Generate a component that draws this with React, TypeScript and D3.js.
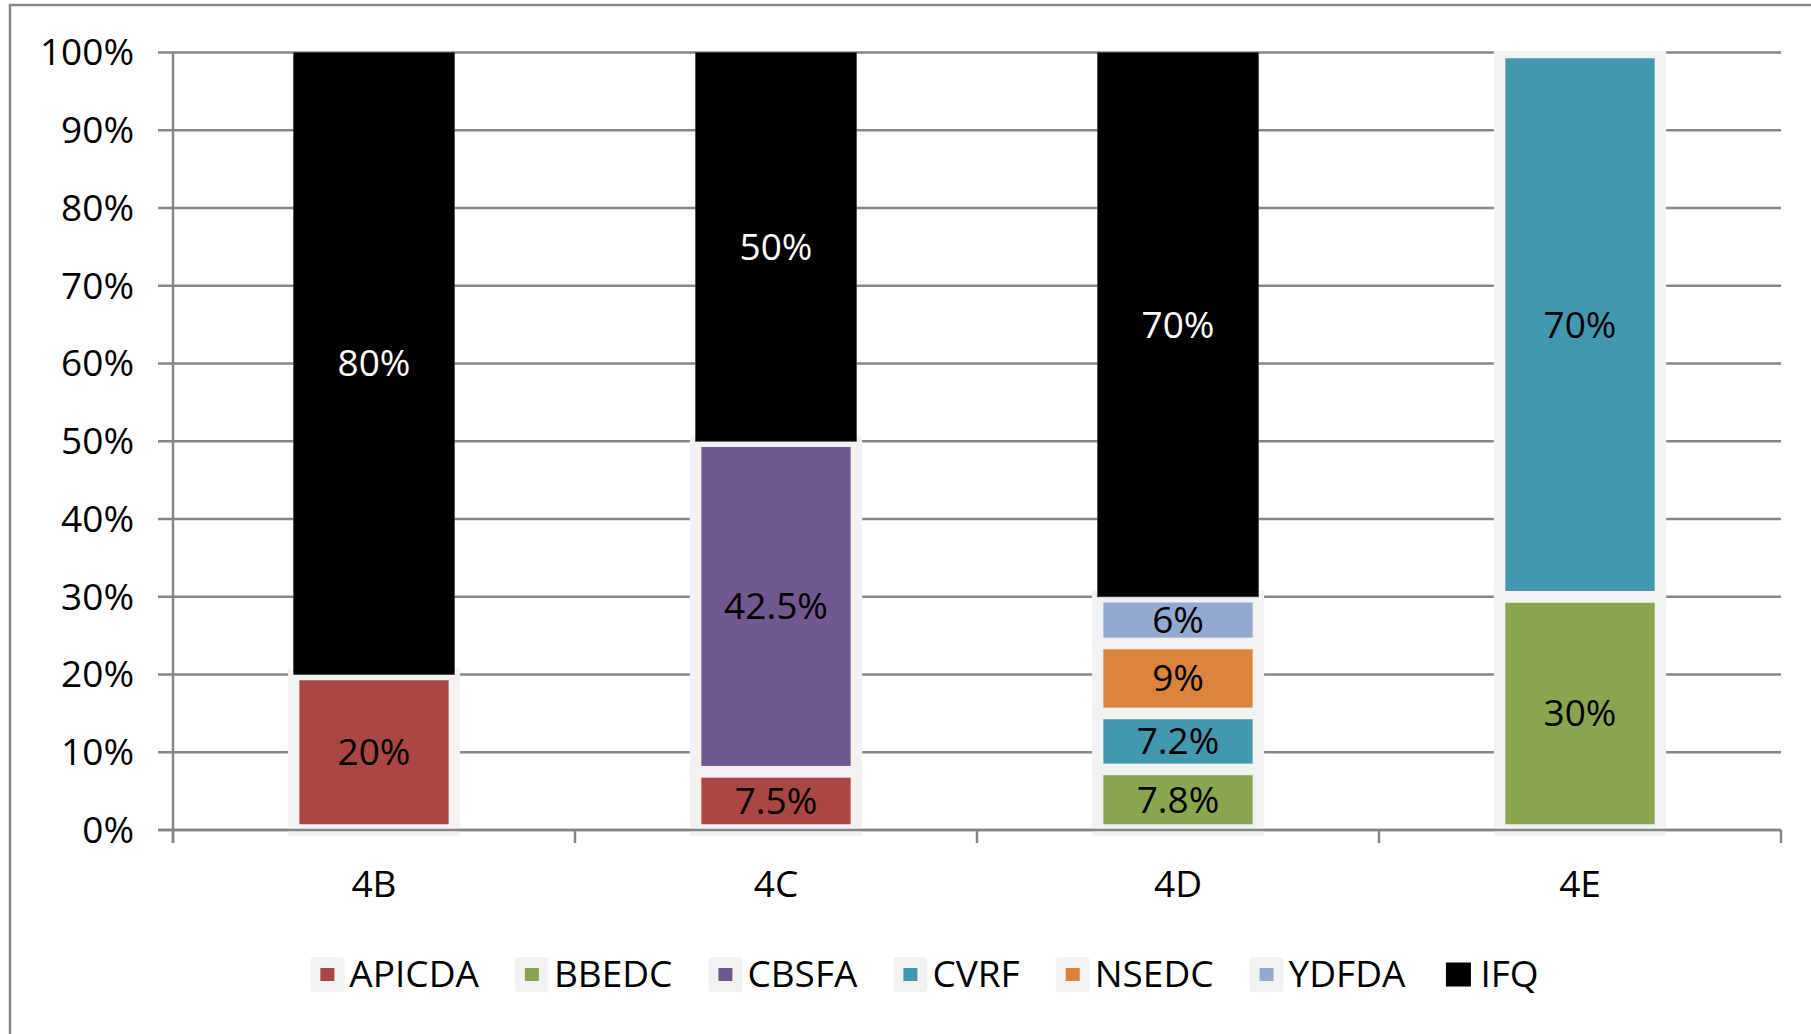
import React from "react";
import * as d3 from "d3";

const categories = ["4B", "4C", "4D", "4E"];
const seriesNames = ["APICDA", "BBEDC", "CBSFA", "CVRF", "NSEDC", "YDFDA", "IFQ"];
const APICDA = [20, 7.5, 0, 0];
const BBEDC = [0, 0, 7.8, 30];
const CBSFA = [0, 42.5, 0, 0];
const CVRF = [0, 0, 7.2, 70];
const NSEDC = [0, 0, 9, 0];
const YDFDA = [0, 0, 6, 0];
const IFQ = [80, 50, 70, 0];
const seriesColors = ["#AA4643", "#89A54E", "#71588F", "#4198AF", "#DB843D", "#93A9CF", "#000000"];
const yTicks = [0, 10, 20, 30, 40, 50, 60, 70, 80, 90, 100];

const W = 1811;
const H = 1034;
const FONT = "'Open Sans', sans-serif";
const FS = 37;
const GRID = "#868686";
const BORDER_GRAY = "#f2f2f2";

function measure(text: string, size: number) {
  const c = document.createElement("canvas").getContext("2d");
  if (!c) return text.length * size * 0.6;
  c.font = `${size}px 'Open Sans'`;
  return c.measureText(text).width;
}

export default function App() {
  const seriesValues = [APICDA, BBEDC, CBSFA, CVRF, NSEDC, YDFDA, IFQ];
  const rows = categories.map((c, i) => {
    const r: any = { cat: c };
    seriesNames.forEach((s, k) => (r[s] = seriesValues[k][i]));
    return r;
  });
  const stacked = d3.stack<any>().keys(seriesNames)(rows);

  const x = d3.scaleBand<string>().domain(categories).range([173, 1781]).paddingInner(0.6).paddingOuter(0.3);
  const y = d3.scaleLinear().domain([0, 100]).range([830, 52.5]);
  const step = x.step();
  const catTicks = d3.range(categories.length + 1).map((i) => 173 + i * step);

  // legend layout
  const boxW = 34;
  const gapText = 5;
  const gapItem = 36;
  const widths = seriesNames.map((s) => measure(s, FS));
  const total = widths.reduce((a, w) => a + boxW + gapText + w, 0) + gapItem * (seriesNames.length - 1);
  let lx = 924.5 - total / 2;
  const legendItems = seriesNames.map((s, i) => {
    const item = { name: s, x: lx, color: seriesColors[i], w: widths[i] };
    lx += boxW + gapText + widths[i] + gapItem;
    return item;
  });
  const legendCY = 974.5;

  return (
    <svg
      width={W}
      height={H}
      style={{ position: "absolute", left: 0, top: 0, display: "block", background: "#fff" }}
      fontFamily={FONT}
    >
      <defs>
        <clipPath id="plotclip">
          <rect x={150} y={51} width={1700} height={900} />
        </clipPath>
      </defs>
      <rect x={0} y={0} width={W} height={H} fill="#fff" />
      {/* chart frame */}
      <rect x={10} y={5} width={1860} height={1100} fill="none" stroke={GRID} strokeWidth={2.5} />

      {/* gridlines and y ticks */}
      {yTicks.map((t) => (
        <line key={"g" + t} x1={158} x2={1781} y1={y(t)} y2={y(t)} stroke={GRID} strokeWidth={2.5} />
      ))}

      {/* bars */}
      <g clipPath="url(#plotclip)">
        {stacked.map((layer, k) => (
          <g key={layer.key}>
            {layer.map((d, i) => {
              const v = d[1] - d[0];
              if (v <= 0) return null;
              const isIFQ = layer.key === "IFQ";
              return (
                <rect
                  key={i}
                  x={x(categories[i])!}
                  width={x.bandwidth()}
                  y={y(d[1])}
                  height={y(d[0]) - y(d[1])}
                  fill={seriesColors[k]}
                  stroke={isIFQ ? "#404040" : BORDER_GRAY}
                  strokeWidth={isIFQ ? 0.8 : 11.5}
                />
              );
            })}
          </g>
        ))}
      </g>

      {/* axes */}
      <line x1={173} x2={173} y1={52.5} y2={843} stroke={GRID} strokeWidth={2.5} />
      <line x1={158} x2={1781} y1={y(0)} y2={y(0)} stroke={GRID} strokeWidth={2.5} />
      {catTicks.map((t, i) => (
        <line key={"ct" + i} x1={t} x2={t} y1={y(0)} y2={843} stroke={GRID} strokeWidth={2.5} />
      ))}

      {/* y labels */}
      {yTicks.map((t) => (
        <text key={"yl" + t} x={134} y={y(t)} dy="0.35em" textAnchor="end" fontSize={FS} fill="#000">
          {t + "%"}
        </text>
      ))}

      {/* x labels */}
      {categories.map((c) => (
        <text key={"xl" + c} x={x(c)! + x.bandwidth() / 2} y={897} textAnchor="middle" fontSize={FS} fill="#000">
          {c}
        </text>
      ))}

      {/* data labels */}
      {stacked.map((layer, k) =>
        layer.map((d, i) => {
          const v = d[1] - d[0];
          if (v <= 0) return null;
          return (
            <text
              key={layer.key + i}
              x={x(categories[i])! + x.bandwidth() / 2}
              y={y((d[0] + d[1]) / 2)}
              dy="0.35em"
              textAnchor="middle"
              fontSize={FS}
              fill={layer.key === "IFQ" ? "#fff" : "#000"}
            >
              {`${v}%`}
            </text>
          );
        })
      )}

      {/* legend */}
      {legendItems.map((it) => (
        <g key={"lg" + it.name}>
          {it.name === "IFQ" ? (
            <rect x={it.x + boxW / 2 - 12.5} y={legendCY - 12} width={25} height={24} fill={it.color} />
          ) : (
            <>
              <rect x={it.x} y={legendCY - 17.5} width={boxW} height={35} rx={4} fill={BORDER_GRAY} />
              <rect x={it.x + boxW / 2 - 7} y={legendCY - 6.5} width={14} height={13} fill={it.color} />
            </>
          )}
          <text x={it.x + boxW + gapText} y={legendCY} dy="0.35em" fontSize={FS} fill="#000">
            {it.name}
          </text>
        </g>
      ))}
    </svg>
  );
}
